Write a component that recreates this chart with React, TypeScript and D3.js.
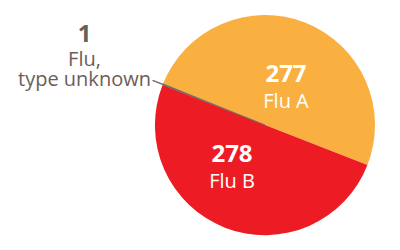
import React from "react";
import * as d3 from "d3";

const categories = ["Flu A", "Flu B", "Flu, type unknown"];
const values = [277, 278, 1];
const sliceColors = ["#FAAF41", "#ED1C24", "#6E625A"];

const W = 400;
const H = 250;
const cx = 265;
const cy = 125;
const R = 110;
const startDeg = -68;
const textColor = "#6B5E56";
const font = "'Open Sans', sans-serif";

// label placement (relative to pie centre) for the inside labels
const insideLabelPos: Record<string, { x: number; y: number }> = {
  "Flu A": { x: 21, y: -43 },
  "Flu B": { x: -33, y: 37 },
};

export default function App() {
  const data = categories.map((c, i) => ({ name: c, value: values[i], color: sliceColors[i] }));
  const pie = d3
    .pie<{ name: string; value: number; color: string }>()
    .value((d) => d.value)
    .sort(null)
    .startAngle((startDeg * Math.PI) / 180)
    .endAngle((startDeg * Math.PI) / 180 + 2 * Math.PI);
  const arcs = pie(data);
  const arcGen = d3.arc<d3.PieArcDatum<any>>().innerRadius(0).outerRadius(R);

  const unknown = arcs[2];
  const mid = (unknown.startAngle + unknown.endAngle) / 2;
  const p = (r: number) => [r * Math.sin(mid), -r * Math.cos(mid)];
  const [x1, y1] = p(R);
  const [x2, y2] = p(R + 11);
  const unknownLines = unknown.data.name.split(" ").reduce<string[]>((acc, w, i) => {
    if (i === 0) acc.push(w);
    else if (i === 1) acc.push(w);
    else acc[1] += " " + w;
    return acc;
  }, []);

  return (
    <svg
      width={W}
      height={H}
      style={{ position: "absolute", left: 0, top: 0, background: "#fff" }}
      fontFamily={font}
    >
      <g transform={`translate(${cx},${cy})`}>
        {arcs.map((a, i) => (
          <path key={i} d={arcGen(a) || ""} fill={a.data.color} stroke={i === 2 ? a.data.color : "none"} strokeWidth={i === 2 ? 0.6 : 0} />
        ))}
        <line x1={x1} y1={y1} x2={x2} y2={y2} stroke="#6E625A" strokeWidth={1.3} />
        {arcs.slice(0, 2).map((a, i) => {
          const pos = insideLabelPos[a.data.name];
          return (
            <text key={i} x={pos.x} y={pos.y} fill="#fff" textAnchor="middle">
              <tspan x={pos.x} y={pos.y} fontSize={24} fontWeight={700}>
                {a.data.value}
              </tspan>
              <tspan x={pos.x} y={pos.y + 25.5} fontSize={20}>
                {a.data.name}
              </tspan>
            </text>
          );
        })}
      </g>
      <text x={84.5} y={41.5} fill={textColor} textAnchor="middle">
        <tspan x={84.5} y={41.5} fontSize={24} fontWeight={700}>
          {unknown.data.value}
        </tspan>
        <tspan x={84.5} y={66} fontSize={20}>
          {unknownLines[0]}
        </tspan>
        <tspan x={84.5} y={86} fontSize={20}>
          {unknownLines[1]}
        </tspan>
      </text>
    </svg>
  );
}
